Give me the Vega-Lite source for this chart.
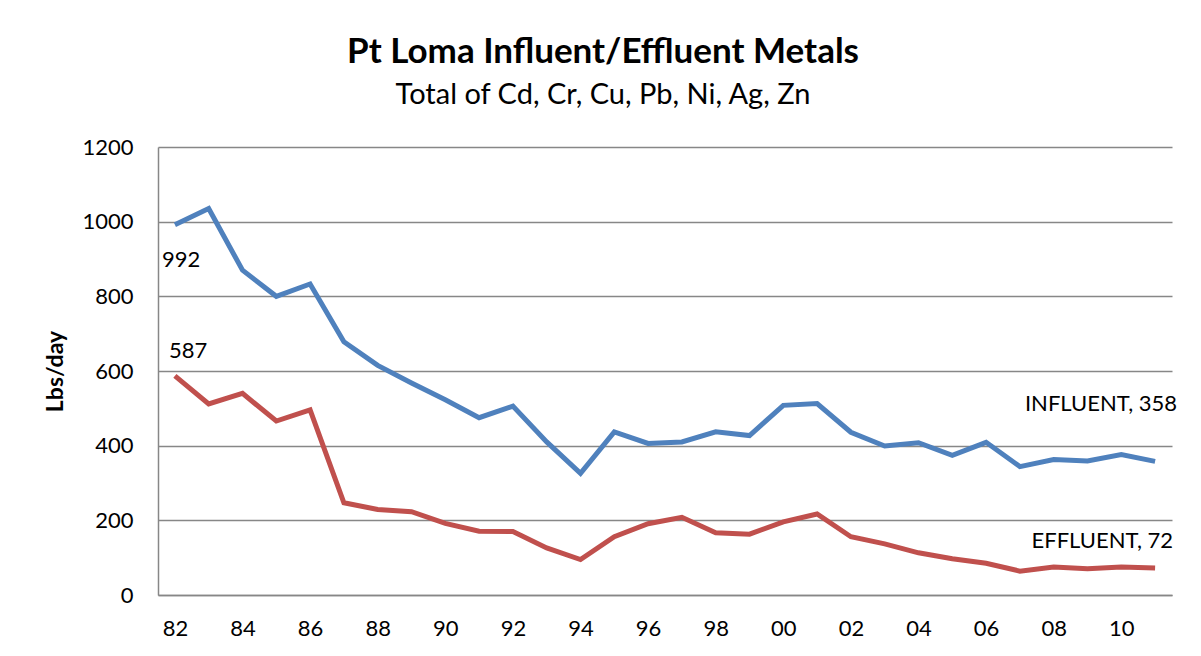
{
  "$schema": "https://vega.github.io/schema/vega-lite/v6.json",
  "autosize": "none",
  "width": 1014,
  "height": 448,
  "padding": {"left": 158, "top": 147, "right": 29, "bottom": 61},
  "background": "white",
  "config": {
    "font": "Lato",
    "view": {"stroke": null},
    "axis": {"labelFont": "Lato", "titleFont": "Lato", "labelColor": "black", "titleColor": "black"}
  },
  "title": {
    "text": "Pt Loma Influent/Effluent Metals",
    "subtitle": "Total of Cd, Cr, Cu, Pb, Ni, Ag, Zn",
    "anchor": "middle",
    "frame": "group",
    "dx": -62,
    "offset": 26,
    "fontSize": 35,
    "fontWeight": "bold",
    "font": "Lato",
    "color": "black",
    "subtitleFont": "Lato",
    "subtitleFontSize": 29,
    "subtitleColor": "black",
    "subtitlePadding": 11
  },
  "data": {
    "values": [
      {"year": "82", "series": "INFLUENT", "value": 992},
      {"year": "83", "series": "INFLUENT", "value": 1035},
      {"year": "84", "series": "INFLUENT", "value": 870},
      {"year": "85", "series": "INFLUENT", "value": 800},
      {"year": "86", "series": "INFLUENT", "value": 833},
      {"year": "87", "series": "INFLUENT", "value": 678},
      {"year": "88", "series": "INFLUENT", "value": 615},
      {"year": "89", "series": "INFLUENT", "value": 568},
      {"year": "90", "series": "INFLUENT", "value": 523},
      {"year": "91", "series": "INFLUENT", "value": 475},
      {"year": "92", "series": "INFLUENT", "value": 506},
      {"year": "93", "series": "INFLUENT", "value": 410},
      {"year": "94", "series": "INFLUENT", "value": 326},
      {"year": "95", "series": "INFLUENT", "value": 437},
      {"year": "96", "series": "INFLUENT", "value": 406},
      {"year": "97", "series": "INFLUENT", "value": 410},
      {"year": "98", "series": "INFLUENT", "value": 437},
      {"year": "99", "series": "INFLUENT", "value": 427},
      {"year": "00", "series": "INFLUENT", "value": 508},
      {"year": "01", "series": "INFLUENT", "value": 513},
      {"year": "02", "series": "INFLUENT", "value": 436},
      {"year": "03", "series": "INFLUENT", "value": 399},
      {"year": "04", "series": "INFLUENT", "value": 408},
      {"year": "05", "series": "INFLUENT", "value": 374},
      {"year": "06", "series": "INFLUENT", "value": 409},
      {"year": "07", "series": "INFLUENT", "value": 344},
      {"year": "08", "series": "INFLUENT", "value": 363},
      {"year": "09", "series": "INFLUENT", "value": 359},
      {"year": "10", "series": "INFLUENT", "value": 376},
      {"year": "11", "series": "INFLUENT", "value": 358},
      {"year": "82", "series": "EFFLUENT", "value": 587},
      {"year": "83", "series": "EFFLUENT", "value": 512},
      {"year": "84", "series": "EFFLUENT", "value": 540},
      {"year": "85", "series": "EFFLUENT", "value": 466},
      {"year": "86", "series": "EFFLUENT", "value": 496},
      {"year": "87", "series": "EFFLUENT", "value": 247},
      {"year": "88", "series": "EFFLUENT", "value": 229},
      {"year": "89", "series": "EFFLUENT", "value": 223},
      {"year": "90", "series": "EFFLUENT", "value": 192},
      {"year": "91", "series": "EFFLUENT", "value": 171},
      {"year": "92", "series": "EFFLUENT", "value": 170},
      {"year": "93", "series": "EFFLUENT", "value": 126},
      {"year": "94", "series": "EFFLUENT", "value": 95},
      {"year": "95", "series": "EFFLUENT", "value": 156},
      {"year": "96", "series": "EFFLUENT", "value": 191},
      {"year": "97", "series": "EFFLUENT", "value": 208},
      {"year": "98", "series": "EFFLUENT", "value": 167},
      {"year": "99", "series": "EFFLUENT", "value": 163},
      {"year": "00", "series": "EFFLUENT", "value": 196},
      {"year": "01", "series": "EFFLUENT", "value": 217},
      {"year": "02", "series": "EFFLUENT", "value": 156},
      {"year": "03", "series": "EFFLUENT", "value": 137},
      {"year": "04", "series": "EFFLUENT", "value": 113},
      {"year": "05", "series": "EFFLUENT", "value": 97},
      {"year": "06", "series": "EFFLUENT", "value": 85},
      {"year": "07", "series": "EFFLUENT", "value": 64},
      {"year": "08", "series": "EFFLUENT", "value": 75},
      {"year": "09", "series": "EFFLUENT", "value": 70},
      {"year": "10", "series": "EFFLUENT", "value": 75},
      {"year": "11", "series": "EFFLUENT", "value": 72}
    ]
  },
  "encoding": {
    "x": {
      "field": "year",
      "type": "ordinal",
      "sort": null,
      "scale": {"type": "point", "padding": 0.5},
      "axis": {
        "title": null,
        "values": ["82","84","86","88","90","92","94","96","98","00","02","04","06","08","10"],
        "labelAngle": 0,
        "labelFontSize": 22,
        "labelPadding": 23,
        "ticks": false,
        "grid": false,
        "domainColor": "#878787",
        "domainWidth": 1.5
      }
    },
    "y": {
      "field": "value",
      "type": "quantitative",
      "scale": {"domain": [0, 1200], "nice": false},
      "axis": {
        "title": "Lbs/day",
        "titleFontSize": 23,
        "titleFontWeight": "bold",
        "titlePadding": 14,
        "format": "d",
        "values": [0, 200, 400, 600, 800, 1000, 1200],
        "labelFontSize": 22,
        "labelPadding": 25,
        "ticks": false,
        "grid": true,
        "gridColor": "#878787",
        "gridWidth": 1.4,
        "gridOpacity": 1,
        "domainColor": "#878787",
        "domainWidth": 1.5
      }
    }
  },
  "layer": [
    {
      "mark": {"type": "line", "strokeWidth": 5},
      "encoding": {
        "color": {
          "field": "series",
          "type": "nominal",
          "scale": {"domain": ["INFLUENT", "EFFLUENT"], "range": ["#4F81BD", "#C0504D"]},
          "legend": null
        }
      }
    },
    {
      "transform": [{"filter": "datum.year == '82' && datum.series == 'INFLUENT'"}],
      "mark": {"type": "text", "align": "left", "baseline": "alphabetic", "dx": -13, "dy": 42, "fontSize": 22, "font": "Lato", "color": "black"},
      "encoding": {"text": {"field": "value", "type": "quantitative"}}
    },
    {
      "transform": [{"filter": "datum.year == '82' && datum.series == 'EFFLUENT'"}],
      "mark": {"type": "text", "align": "left", "baseline": "alphabetic", "dx": -6, "dy": -18, "fontSize": 22, "font": "Lato", "color": "black"},
      "encoding": {"text": {"field": "value", "type": "quantitative"}}
    },
    {
      "transform": [
        {"filter": "datum.year == '11' && datum.series == 'INFLUENT'"},
        {"calculate": "datum.series + ', ' + datum.value", "as": "label"}
      ],
      "mark": {"type": "text", "align": "right", "baseline": "alphabetic", "dx": 22, "dy": -50, "fontSize": 22, "font": "Lato", "color": "black"},
      "encoding": {"text": {"field": "label", "type": "nominal"}}
    },
    {
      "transform": [
        {"filter": "datum.year == '11' && datum.series == 'EFFLUENT'"},
        {"calculate": "datum.series + ', ' + datum.value", "as": "label"}
      ],
      "mark": {"type": "text", "align": "right", "baseline": "alphabetic", "dx": 18, "dy": -20, "fontSize": 22, "font": "Lato", "color": "black"},
      "encoding": {"text": {"field": "label", "type": "nominal"}}
    }
  ]
}
